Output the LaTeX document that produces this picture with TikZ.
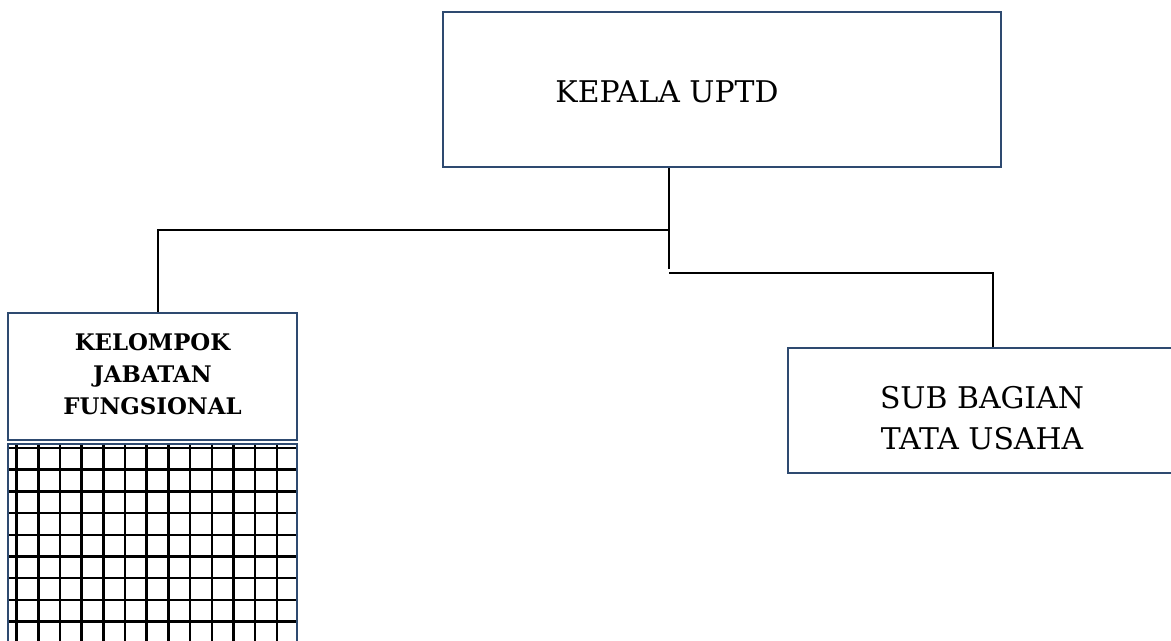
\documentclass[tikz,border=0pt]{standalone}
\usepackage{fontspec}
\setmainfont{DejaVu Serif}
\usetikzlibrary{positioning}
\definecolor{boxblue}{HTML}{2E4A70}

\begin{document}
\begin{tikzpicture}[x=0.02cm, y=-0.02cm,
    unitbox/.style={draw=boxblue, line width=1.5pt, fill=white, align=center, inner sep=0pt},
    unittext/.style={align=center, font=\fontsize{17}{23.7}\selectfont},
    link/.style={draw=black, line width=0.9pt},
    gridline/.style={draw=black, line width=1.4pt}]
    % Canvas
    \useasboundingbox (0,0) rectangle (1171,640);
    \clip (0,0) rectangle (1171,640);

    % Units
    \node[unitbox, minimum width=11.16cm, minimum height=3.1cm,
          label={[unittext, xshift=-1.1cm, yshift=-0.05cm]center:KEPALA UPTD}] (kepala) at (722,89.5) {};
    \node[unitbox, minimum width=5.78cm, minimum height=2.54cm,
          label={[align=center, font=\bfseries\fontsize{13}{18.2}\selectfont, yshift=0.05cm]center:KELOMPOK\\JABATAN\\FUNGSIONAL}]
          (kjf) at (152.5,376.5) {};
    \node[unitbox, minimum width=7.76cm, minimum height=2.5cm,
          label={[unittext, yshift=-0.15cm]center:SUB BAGIAN\\TATA USAHA}] (subbag) at (982,410.5) {};

    % Grid under the functional group
    \foreach \x in {0,...,12} {
        \draw[gridline] ({16.7+21.67*\x},443) -- ({16.7+21.67*\x},650);
    }
    \foreach \y in {0,...,9} {
        \draw[gridline] (8,{448+21.7*\y}) -- (297,{448+21.7*\y});
    }
    \draw[draw=boxblue, line width=1.5pt] (8,650) -- (8,444) -- (297,444) -- (297,650);

    % Connectors
    \coordinate (trunk) at (669,269);
    \coordinate (lbranch) at (669,230);
    \coordinate (rbranch) at (669,273);
    \draw[link] (kepala.south -| trunk) -- (trunk);
    \draw[link] (lbranch) -| ([xshift=0.11cm]kjf.north);
    \draw[link] (rbranch) -| ([xshift=0.22cm]subbag.north);
\end{tikzpicture}
\end{document}
